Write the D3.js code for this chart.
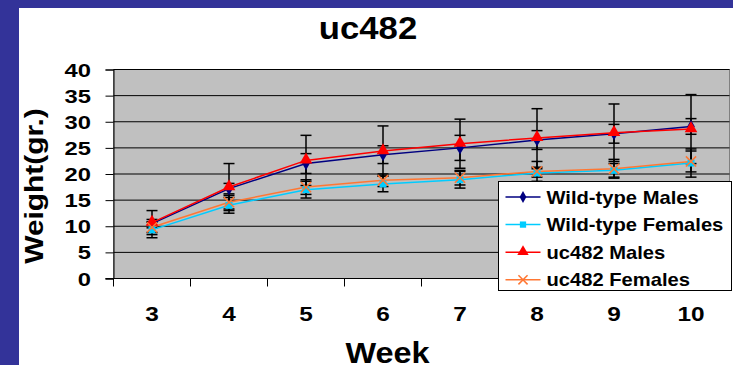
<!DOCTYPE html>
<html>
<head>
<meta charset="utf-8">
<script src="https://cdn.jsdelivr.net/npm/d3@7"></script>
<style>
  body { margin: 0; background: #fff; }
  text { font-family: "Liberation Sans", Arial, sans-serif; font-weight: bold; fill: #000; }
</style>
</head>
<body>
<div id="chart"></div>
<script>
// chart data
const weeks = [3, 4, 5, 6, 7, 8, 9, 10];
const wtMales     = [10.5, 17.2, 22.0, 23.7, 25.0, 26.5, 27.7, 29.1];
const wtFemales   = [9.3, 14.0, 17.0, 18.1, 18.9, 20.2, 20.7, 22.1];
const ucMales     = [10.7, 17.5, 22.6, 24.4, 25.8, 26.9, 27.9, 28.6];
const ucFemales   = [9.8, 14.6, 17.5, 18.8, 19.3, 20.5, 21.0, 22.4];
// standard deviation for the error bars
const wtMalesErr   = [0.8, 1.0, 1.9, 1.7, 2.4, 1.8, 1.8, 1.5];
const wtFemalesErr = [1.5, 1.5, 1.6, 1.5, 1.6, 0.8, 1.3, 2.7];
const ucMalesErr   = [2.3, 4.5, 4.8, 4.8, 4.7, 5.6, 5.5, 6.6];
const ucFemalesErr = [1.0, 1.3, 1.4, 1.2, 1.4, 1.9, 1.8, 2.0];
const yTicks = [0, 5, 10, 15, 20, 25, 30, 35, 40];

const series = [
    {name: "Wild-type Males",   values: wtMales,   err: wtMalesErr,   color: "#000080", marker: "diamond"},
    {name: "Wild-type Females", values: wtFemales, err: wtFemalesErr, color: "#00ccff", marker: "square"},
    {name: "uc482 Males",       values: ucMales,   err: ucMalesErr,   color: "#ff0000", marker: "triangle"},
    {name: "uc482 Females",     values: ucFemales, err: ucFemalesErr, color: "#ff7733", marker: "cross"}
];

const W = 733, H = 365;
const plot = {left: 113.5, right: 729.5, top: 69.5, bottom: 278.5};

const svg = d3.select("#chart").append("svg")
    .attr("width", W)
    .attr("height", H);

// slide background with blue frame
svg.append("rect").attr("width", W).attr("height", H).attr("fill", "#333399");
svg.append("rect").attr("x", 19).attr("y", 8).attr("width", W - 19).attr("height", H - 8).attr("fill", "#fff");

// scales
const x = d3.scaleBand().domain(weeks).range([plot.left, plot.right]);
const y = d3.scaleLinear().domain([0, 40]).range([plot.bottom, plot.top]);
const cx = function(w) { return x(w) + x.bandwidth() / 2; };

// stretched text helper (the original lettering is wider than Arial)
function label(parent, tx, ty, str, size, sx, anchor, rot) {
    let g = parent.append("g")
        .attr("transform", "translate(" + tx + "," + ty + ")" + (rot ? " rotate(" + rot + ")" : "") + " scale(" + sx + ",1)");
    g.append("text")
        .attr("text-anchor", anchor || "middle")
        .style("font-size", size + "px")
        .text(str);
    return g;
}

// plot area
svg.append("rect")
    .attr("x", plot.left).attr("y", plot.top)
    .attr("width", plot.right - plot.left).attr("height", plot.bottom - plot.top)
    .attr("fill", "#c0c0c0")
    .attr("stroke", "#808080");

// gridlines
svg.append("g").selectAll("line")
    .data(yTicks.slice(1))
  .enter().append("line")
    .attr("x1", plot.left).attr("x2", plot.right)
    .attr("y1", function(d) { return y(d); }).attr("y2", function(d) { return y(d); })
    .attr("stroke", "#000").attr("stroke-width", 1);

// y axis
let yAxis = d3.axisLeft(y).tickValues(yTicks).tickSize(8).tickFormat("");
let yg = svg.append("g")
    .attr("transform", "translate(" + plot.left + ",0)")
    .call(yAxis);
yg.select(".domain").attr("stroke", "#000");
yg.selectAll(".tick line").attr("stroke", "#000");
yTicks.forEach(function(t) {
    label(svg, 91, y(t) + 7, String(t), 19, 1.25, "end");
});

// x axis: line plus ticks between categories
svg.append("line")
    .attr("x1", plot.left - 8).attr("x2", plot.right)
    .attr("y1", plot.bottom).attr("y2", plot.bottom)
    .attr("stroke", "#000");
svg.append("g").selectAll("line")
    .data(weeks.map(function(w) { return x(w); }).concat([plot.right]))
  .enter().append("line")
    .attr("x1", function(d) { return d; }).attr("x2", function(d) { return d; })
    .attr("y1", plot.bottom).attr("y2", plot.bottom + 8)
    .attr("stroke", "#000");
weeks.forEach(function(w) {
    label(svg, cx(w), 321, String(w), 19.5, 1.25, "middle");
});

// titles
label(svg, 368, 39.3, "uc482", 31, 1.12, "middle");
label(svg, 387.5, 363, "Week", 29, 1.12, "middle");
label(svg, 43, 186, "Weight(gr.)", 26, 1.15, "middle", -90);

// error bars
let capw = 5.5;
series.forEach(function(s) {
    let eg = svg.append("g").attr("stroke", "#000").attr("stroke-width", 1.5);
    s.values.forEach(function(v, i) {
        let xx = cx(weeks[i]), lo = y(v - s.err[i]), hi = y(v + s.err[i]);
        eg.append("line").attr("x1", xx).attr("x2", xx).attr("y1", lo).attr("y2", hi);
        eg.append("line").attr("x1", xx - capw).attr("x2", xx + capw).attr("y1", lo).attr("y2", lo);
        eg.append("line").attr("x1", xx - capw).attr("x2", xx + capw).attr("y1", hi).attr("y2", hi);
    });
});

// lines
let line = d3.line()
    .x(function(d, i) { return cx(weeks[i]); })
    .y(function(d) { return y(d); });
series.forEach(function(s) {
    svg.append("path")
        .datum(s.values)
        .attr("fill", "none")
        .attr("stroke", s.color)
        .attr("stroke-width", 1.5)
        .attr("d", line);
});

// markers
function drawMarker(g, type, color, px, py, k) {
    k = k || 1;
    if (type == "diamond") {
        g.append("path").attr("d", d3.symbol(d3.symbolDiamond, 50 * k)()).attr("transform", "translate(" + px + "," + py + ")").attr("fill", color);
    } else if (type == "square") {
        let h = 3.5 * Math.sqrt(k);
        g.append("rect").attr("x", px - h).attr("y", py - h).attr("width", 2 * h).attr("height", 2 * h).attr("fill", color);
    } else if (type == "triangle") {
        g.append("path").attr("d", d3.symbol(d3.symbolTriangle, 70 * k)()).attr("transform", "translate(" + px + "," + (py - 0.5) + ")").attr("fill", color);
    } else {
        g.append("path").attr("d", d3.symbol(d3.symbolX, 70 * k)()).attr("transform", "translate(" + px + "," + py + ")").attr("fill", "none").attr("stroke", color).attr("stroke-width", 1.5);
    }
}
series.forEach(function(s) {
    let mg = svg.append("g");
    s.values.forEach(function(v, i) { drawMarker(mg, s.marker, s.color, cx(weeks[i]), y(v)); });
});

// legend
let lg = svg.append("g").attr("transform", "translate(498.5,181.5)");
lg.append("rect").attr("width", 233).attr("height", 109).attr("fill", "#fff").attr("stroke", "#000");
series.forEach(function(s, i) {
    let ry = 15.5 + i * 27.6;
    lg.append("line").attr("x1", 7).attr("x2", 42).attr("y1", ry).attr("y2", ry).attr("stroke", s.color).attr("stroke-width", 1.5);
    drawMarker(lg, s.marker, s.color, 24.5, ry, 0.8);
    label(lg, 48, ry + 6.5, s.name, 18, 1.12, "start");
});
</script>
</body>
</html>
